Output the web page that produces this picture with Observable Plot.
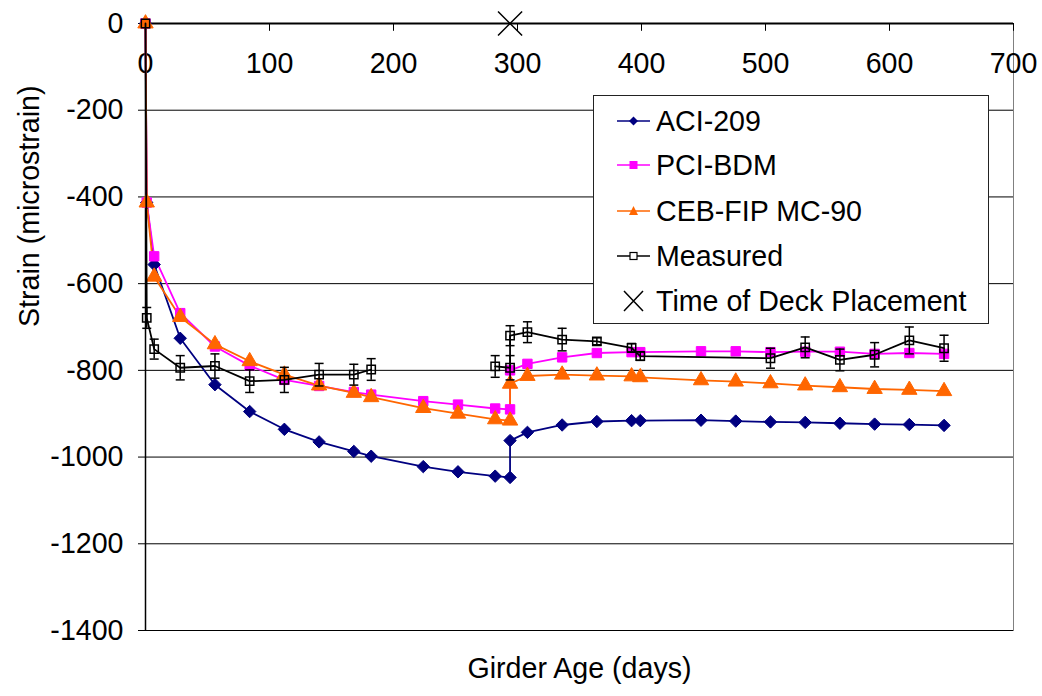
<!DOCTYPE html>
<html>
<head>
<meta charset="utf-8">
<script src="https://cdn.jsdelivr.net/npm/d3@7"></script>
<script src="https://cdn.jsdelivr.net/npm/@observablehq/plot@0.6"></script>
<style>
  body { margin: 0; background: #fff; }
  #chart { position: relative; width: 1042px; height: 696px; font-family: "Liberation Sans", Arial, sans-serif; }
  #chart svg { display: block; }
  .legend { position: absolute; left: 593px; top: 95px; width: 396px; height: 229px; box-sizing: border-box;
            border: 1px solid #222; background: #fff; }
  .legend .row { position: absolute; left: 0; height: 40px; display: flex; align-items: center;
                 font-size: 28.6px; color: #000; white-space: nowrap; }
  .legend .row svg { width: 62px; height: 30px; flex: none; }
</style>
</head>
<body>
<div id="chart"></div>
<script>
// Girder age (days) at which the three prediction models were evaluated
const modelDays = [0, 1, 7, 28, 56, 84, 112, 140, 168, 182, 224, 252, 282, 294, 294, 308, 336, 364, 392, 399, 448, 476, 504, 532, 560, 588, 616, 644];

// Predicted strain (microstrain)
const aci209 = [0, -413, -556, -726, -833, -895, -936, -965, -987, -998, -1022, -1034, -1044, -1047, -962, -943, -926, -918, -916, -916, -915, -917, -919, -920, -922, -924, -925, -927];
const pciBdm = [0, -413, -537, -668, -745, -789, -822, -836, -850, -856, -871, -879, -888, -890, -800, -785, -770, -760, -758, -758, -756, -756, -758, -757, -757, -762, -760, -762];
const cebFip = [0, -413, -584, -677, -740, -779, -810, -835, -852, -862, -887, -900, -913, -916, -831, -813, -810, -812, -814, -816, -823, -826, -830, -835, -839, -843, -845, -848];

// Measured strain with error-bar half widths; null = no readings (gap in the line)
const measuredDays   = [0, 1, 7, 28, 56, 84, 112, 140, 168, 182, 230, 282, 294, 294, 308, 336, 364, 392, 399, 504, 532, 560, 588, 616, 644];
const measuredStrain = [0, -679, -751, -794, -790, -825, -822, -810, -810, -798, null, -791, -794, -720, -712, -729, -733, -748, -767, -772, -747, -776, -764, -731, -749];
const measuredError  = [0, 24, 23, 28, 28, 26, 29, 26, 24, 25, 0, 25, 28, 23, 24, 26, 8, 10, 10, 23, 24, 25, 28, 31, 30];

// Deck placement
const deckDay = [294];
const deckStrain = [0];

// Axis ticks
const xTicks = [0, 100, 200, 300, 400, 500, 600, 700];
const yTicks = [0, -200, -400, -600, -800, -1000, -1200, -1400];

const seriesNames = ["ACI-209", "PCI-BDM", "CEB-FIP MC-90", "Measured", "Time of Deck Placement"];
const colors = {aci: "#000080", pci: "#ff00ff", ceb: "#ff6600", meas: "#000000"};

const rowsOf = (vals) => modelDays.map((day, i) => ({day, strain: vals[i]}));
const aciRows = rowsOf(aci209);
const pciRows = rowsOf(pciBdm);
const cebRows = rowsOf(cebFip);
const measRows = measuredDays.map((day, i) => ({day, strain: measuredStrain[i], err: measuredError[i]}));
const errRows = measRows.filter(d => d.strain != null && d.err > 0);
const deckRows = deckDay.map((day, i) => ({day, strain: deckStrain[i]}));

// Horizontal cap drawn at the ends of each error bar
const capSymbol = {
  draw(context, size) {
    const w = Math.sqrt(size / Math.PI);
    context.moveTo(-w, 0);
    context.lineTo(w, 0);
  }
};

const lineW = 1.8;
const fs = 28.6;

const plot = Plot.plot({
  width: 1042,
  height: 696,
  marginLeft: 145,
  marginRight: 29,
  marginTop: 23,
  marginBottom: 66,
  style: {fontFamily: '"Liberation Sans", Arial, sans-serif', fontSize: fs + "px", color: "#000", background: "#fff", overflow: "visible"},
  x: {domain: [0, 700], axis: null},
  y: {domain: [-1400, 0]},
  marks: [
    Plot.frame({stroke: "#808080"}),
    Plot.ruleY(yTicks.filter(t => t < 0), {stroke: "#000", strokeWidth: 1}),
    Plot.ruleX([0], {stroke: "#000", strokeWidth: 1.5}),
    Plot.ruleY([0], {stroke: "#000", strokeWidth: 2}),
    Plot.ruleX(xTicks, {x: d => d, y1: 0, y2: -18, stroke: "#000", strokeWidth: 1}),
    Plot.text(xTicks, {x: d => d, y: 0, dy: 40, text: d => String(d), fontSize: fs}),
    Plot.axisY({ticks: yTicks, tickFormat: d => String(d), tickSize: 7, tickPadding: 15, label: null, fontSize: fs}),
    Plot.text(["Strain (microstrain)"], {frameAnchor: "left", dx: -116, rotate: -90, fontSize: fs}),
    Plot.text(["Girder Age (days)"], {frameAnchor: "bottom", dy: 47, fontSize: fs}),

    // prediction curves
    Plot.line(aciRows, {x: "day", y: "strain", stroke: colors.aci, strokeWidth: lineW}),
    Plot.line(pciRows, {x: "day", y: "strain", stroke: colors.pci, strokeWidth: lineW}),
    Plot.line(cebRows, {x: "day", y: "strain", stroke: colors.ceb, strokeWidth: lineW}),
    Plot.dot(aciRows, {x: "day", y: "strain", symbol: "diamond2", r: 5.6, fill: colors.aci, stroke: colors.aci, strokeWidth: 1}),
    Plot.dot(pciRows, {x: "day", y: "strain", symbol: "square", r: 5.3, fill: colors.pci, stroke: colors.pci, strokeWidth: 1}),
    Plot.dot(cebRows, {x: "day", y: "strain", symbol: "triangle", r: 5.7, fill: colors.ceb, stroke: colors.ceb, strokeWidth: 1}),

    // measured values with error bars
    Plot.line(measRows, {x: "day", y: "strain", stroke: colors.meas, strokeWidth: lineW}),
    Plot.ruleX(errRows, {x: "day", y1: d => d.strain - d.err, y2: d => d.strain + d.err, stroke: "#000", strokeWidth: 1.5}),
    Plot.dot(errRows, {x: "day", y: d => d.strain - d.err, symbol: capSymbol, r: 4.5, stroke: "#000", strokeWidth: 1.5}),
    Plot.dot(errRows, {x: "day", y: d => d.strain + d.err, symbol: capSymbol, r: 4.5, stroke: "#000", strokeWidth: 1.5}),
    Plot.dot(measRows, {x: "day", y: "strain", symbol: "square", r: 4.7, fill: "none", stroke: "#000", strokeWidth: 1.5}),

    // time of deck placement
    Plot.dot(deckRows, {x: "day", y: "strain", symbol: "times", r: 11, stroke: "#000", strokeWidth: 1.5})
  ]
});

const chart = document.getElementById("chart");
chart.appendChild(plot);

// Legend box inside the plotting area
const swatches = [
  `<line x1="23" y1="15" x2="56" y2="15" stroke="${colors.aci}" stroke-width="1.5"/><path d="M39.5,10.5L44,15L39.5,19.5L35,15Z" fill="${colors.aci}"/>`,
  `<line x1="23" y1="15" x2="56" y2="15" stroke="${colors.pci}" stroke-width="1.5"/><rect x="35.5" y="11" width="8" height="8" fill="${colors.pci}"/>`,
  `<line x1="23" y1="15" x2="56" y2="15" stroke="${colors.ceb}" stroke-width="1.5"/><path d="M39.5,10L44,19L35,19Z" fill="${colors.ceb}"/>`,
  `<line x1="23" y1="15" x2="56" y2="15" stroke="#000" stroke-width="1.5"/><rect x="36" y="11.5" width="7" height="7" fill="#fff" stroke="#000" stroke-width="1.2"/>`,
  `<path d="M30,5L49,25M30,25L49,5" stroke="#000" stroke-width="1.5" fill="none"/>`
];
const rowCenters = [26, 70, 116, 161, 206];
const legend = document.createElement("div");
legend.className = "legend";
seriesNames.forEach((name, i) => {
  const row = document.createElement("div");
  row.className = "row";
  row.style.top = (rowCenters[i] - 21) + "px";
  row.innerHTML = `<svg viewBox="0 0 62 30">${swatches[i]}</svg><span>${name}</span>`;
  legend.appendChild(row);
});
chart.appendChild(legend);
</script>
</body>
</html>
